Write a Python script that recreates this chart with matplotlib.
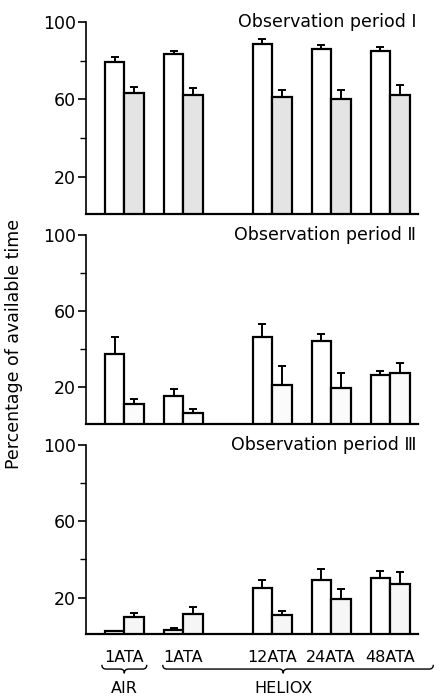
import numpy as np
import matplotlib
matplotlib.use("Agg")
import matplotlib.pyplot as plt
from matplotlib.path import Path
from matplotlib.patches import PathPatch
import matplotlib.transforms as mtransforms

# data (percentage of available time)
groups = ["1ATA", "1ATA", "12ATA", "24ATA", "48ATA"]

p1_white = [79.4, 83.2, 88.4, 86.1, 85.1]
p1_white_err = [2.6, 1.8, 2.6, 2.1, 1.9]
p1_grey = [63.5, 62.3, 61.4, 60.4, 62.3]
p1_grey_err = [2.7, 3.4, 3.3, 4.4, 5.0]

p2_white = [37.3, 15.7, 46.6, 44.2, 26.4]
p2_white_err = [9.0, 3.3, 6.6, 4.0, 2.4]
p2_grey = [11.4, 6.6, 21.2, 19.7, 27.3]
p2_grey_err = [2.6, 2.2, 9.8, 7.8, 5.7]

p3_white = [2.2, 2.9, 25.2, 29.4, 30.2]
p3_white_err = [0.0, 0.9, 3.8, 5.4, 3.5]
p3_grey = [9.9, 11.1, 10.7, 19.1, 27.3]
p3_grey_err = [2.1, 4.0, 2.1, 5.6, 6.1]

titles = ["Observation period \u2160", "Observation period \u2161", "Observation period \u2162"]

xpos = np.array([0, 1, 2.5, 3.5, 4.5])
w = 0.33

fig = plt.figure(figsize=(4.34, 6.99), dpi=100)
boxes = [(0.694, 0.969), (0.394, 0.664), (0.0934, 0.363)]
panels = [
    (p1_white, p1_white_err, p1_grey, p1_grey_err, "#e4e4e4"),
    (p2_white, p2_white_err, p2_grey, p2_grey_err, "#fbfbfb"),
    (p3_white, p3_white_err, p3_grey, p3_grey_err, "#f6f6f6"),
]

axes = []
for (b, t), (wv, we, gv, ge, gcol), title in zip(boxes, panels, titles):
    ax = fig.add_axes([0.198, b, 0.765, t - b])
    ax.bar(xpos - w / 2, wv, w, color="white", edgecolor="black", linewidth=1.6)
    ax.bar(xpos + w / 2, gv, w, color=gcol, edgecolor="black", linewidth=1.6)
    ax.errorbar(xpos - w / 2, wv, yerr=[np.zeros(5), we], fmt="none",
                ecolor="black", elinewidth=1.4, capsize=3, capthick=1.4)
    ax.errorbar(xpos + w / 2, gv, yerr=[np.zeros(5), ge], fmt="none",
                ecolor="black", elinewidth=1.4, capsize=3, capthick=1.4)
    ax.set_xlim(-0.65, 4.97)
    ax.set_ylim(1, 100)
    ax.set_yticks([20, 60, 100])
    ax.set_yticks([40, 80], minor=True)
    ax.tick_params(axis="y", which="major", length=6, width=1.2, labelsize=12.5, pad=1)
    ax.tick_params(axis="y", which="minor", length=4, width=1.0)
    ax.spines["top"].set_visible(False)
    ax.spines["right"].set_visible(False)
    ax.spines["left"].set_linewidth(1.2)
    ax.spines["bottom"].set_linewidth(1.6)
    ax.set_xticks(xpos)
    ax.tick_params(axis="x", length=0)
    ax.set_xticklabels([])
    ax.text(0.995, 1.0, title, transform=ax.transAxes, ha="right", va="center",
            fontsize=12.5)
    axes.append(ax)

ax3 = axes[2]
ax3.set_xticklabels(groups, fontsize=11.5)
ax3.tick_params(axis="x", pad=12)

# braces under the tick labels
trans = mtransforms.blended_transform_factory(ax3.transData, ax3.transAxes)


def brace(ax, a, b, m, yt, h, r):
    ym = yt - h / 2
    yb = yt - h
    verts = [(a, yt), (a, ym), (a + r, ym), (m - r, ym), (m, ym), (m, yb),
             (m, ym), (m + r, ym), (b - r, ym), (b, ym), (b, yt)]
    codes = [Path.MOVETO, Path.CURVE3, Path.CURVE3, Path.LINETO, Path.CURVE3, Path.CURVE3,
             Path.CURVE3, Path.CURVE3, Path.LINETO, Path.CURVE3, Path.CURVE3]
    ax.add_patch(PathPatch(Path(verts, codes), transform=trans, fill=False,
                           edgecolor="black", linewidth=1.0, clip_on=False))


brace(ax3, -0.38, 0.38, 0.0, -0.165, 0.045, 0.07)
brace(ax3, 0.65, 5.23, 2.69, -0.165, 0.045, 0.07)
ax3.text(0.0, -0.29, "AIR", transform=trans, ha="center", va="center", fontsize=11.5)
ax3.text(2.69, -0.29, "HELIOX", transform=trans, ha="center", va="center", fontsize=11.5)

fig.text(0.032, 0.508, "Percentage of available time", rotation=90,
         ha="center", va="center", fontsize=12.5)

fig.savefig("out.png", dpi=100)
